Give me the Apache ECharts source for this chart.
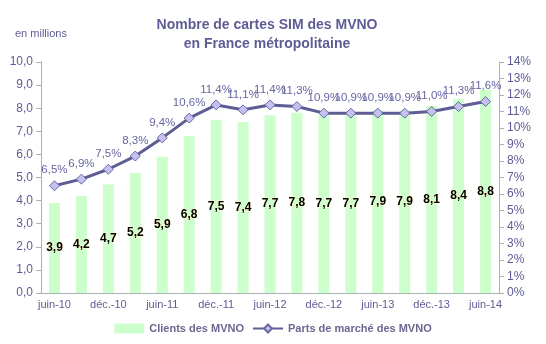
<!DOCTYPE html>
<html><head><meta charset="utf-8">
<script src="https://cdn.jsdelivr.net/npm/echarts@6/dist/echarts.min.js"></script>
<style>html,body{margin:0;padding:0;background:#fff}#c{width:546px;height:344px}</style>
</head><body><div id="c"></div>
<script>
var categories = ['juin-10','sept.-10','déc.-10','mars-11','juin-11','sept.-11','déc.-11','mars-12','juin-12','sept.-12','déc.-12','mars-13','juin-13','sept.-13','déc.-13','mars-14','juin-14'];
var clients = [3.9,4.2,4.7,5.2,5.9,6.8,7.5,7.4,7.7,7.8,7.7,7.7,7.9,7.9,8.1,8.4,8.8];
var parts = [6.5,6.9,7.5,8.3,9.4,10.6,11.4,11.1,11.4,11.3,10.9,10.9,10.9,10.9,11.0,11.3,11.6];
var fr = function(v, d){ return v.toFixed(d).replace('.', ','); };
var txt = '#5e5c94';
var chart = echarts.init(document.getElementById('c'));
chart.setOption({
  animation:false,
  textStyle:{fontFamily:'Liberation Sans, Arial, sans-serif'},
  title:[{text:'Nombre de cartes SIM des MVNO\nen France métropolitaine',left:262,top:11,textAlign:'center',
    textStyle:{fontSize:14,fontWeight:'bold',color:'#5e5c94',lineHeight:19}},
    {text:'en millions',left:10,top:23,textStyle:{fontSize:11,fontWeight:'normal',color:'#5e5c94'}}],
  legend:{bottom:5,left:'center',itemGap:8,itemWidth:30,itemHeight:10,
    textStyle:{fontSize:11,fontWeight:'bold',color:'#6a6890'},
    data:[{name:'Clients des MVNO',icon:'rect'},{name:'Parts de marché des MVNO'}]},
  grid:{left:41,right:47,top:62,bottom:51},
  xAxis:{type:'category',data:categories,
    axisLine:{lineStyle:{color:'#a8b4b4'}},
    axisTick:{alignWithLabel:false,interval:0,lineStyle:{color:'#a8b4b4'},length:5},
    axisLabel:{interval:1,color:txt,fontSize:11,margin:6}},
  yAxis:[{type:'value',min:0,max:10,interval:1,
    axisLine:{show:true,lineStyle:{color:'#a8b4b4'}},
    axisTick:{show:true,lineStyle:{color:'#a8b4b4'},length:5},
    splitLine:{show:false},
    axisLabel:{color:txt,fontSize:12,formatter:function(v){return fr(v,1);}}},
   {type:'value',min:0,max:14,interval:1,position:'right',
    axisLine:{show:true,lineStyle:{color:'#a8b4b4'}},
    axisTick:{show:true,lineStyle:{color:'#a8b4b4'},length:5},
    splitLine:{show:false},
    axisLabel:{color:txt,fontSize:12,formatter:function(v){return v+'%';}}}],
  series:[{name:'Clients des MVNO',type:'bar',data:clients,barWidth:11,
    itemStyle:{color:'#ccffcc'},
    label:{show:true,position:'inside',color:'#000',fontWeight:'bold',fontSize:12,
      textBorderColor:'#fff8d0',textBorderWidth:1,
      formatter:function(p){return fr(p.value,1);}}},
   {name:'Parts de marché des MVNO',type:'line',yAxisIndex:1,data:parts,
    symbol:'diamond',symbolSize:10,
    lineStyle:{color:'#5e5c94',width:3},
    itemStyle:{color:'#c4c0f0',borderColor:'#6a68a0',borderWidth:1},
    label:{show:true,position:'top',distance:4,color:'#6666a0',fontSize:11.5,
      formatter:function(p){return fr(p.value,1)+'%';}}}]
});
</script></body></html>
